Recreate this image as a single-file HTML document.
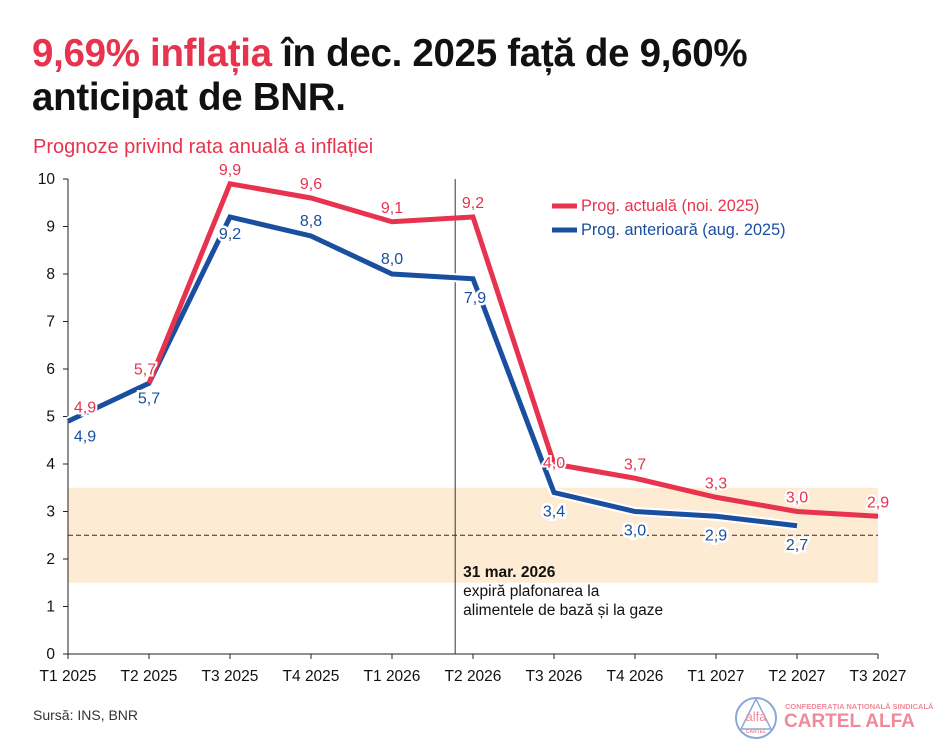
<!DOCTYPE html>
<html><head><meta charset="utf-8">
<style>
body{margin:0;background:#fff;width:936px;height:750px;overflow:hidden;font-family:"Liberation Sans",Arial,sans-serif;}
#title{position:absolute;left:32px;top:32px;font-size:38.5px;font-weight:bold;line-height:44px;color:#111;letter-spacing:-0.3px;}
#title span{color:#e8334f}
#sub{position:absolute;left:33px;top:136px;font-size:20px;color:#e8334f}
#src{position:absolute;left:33px;top:707px;font-size:14px;color:#333}
svg{position:absolute;left:0;top:0}
</style></head><body>
<div id="title"><span>9,69% inflația</span> în dec. 2025 față de 9,60%<br>anticipat de BNR.</div>
<div id="sub">Prognoze privind rata anuală a inflației</div>
<div id="src">Sursă: INS, BNR</div>
<svg id="chart" width="936" height="750"></svg>
<script>
const categories=["T1 2025","T2 2025","T3 2025","T4 2025","T1 2026","T2 2026","T3 2026","T4 2026","T1 2027","T2 2027","T3 2027"];
const currentForecast=[4.9,5.7,9.9,9.6,9.1,9.2,4.0,3.7,3.3,3.0,2.9];
const previousForecast=[4.9,5.7,9.2,8.8,8.0,7.9,3.4,3.0,2.9,2.7];
const yTicks=[0,1,2,3,4,5,6,7,8,9,10];
const targetBand=[1.5,3.5];
const targetLine=2.5;
const ns="http://www.w3.org/2000/svg";
const svg=document.getElementById('chart');
const X=i=>68+i*81;
const Y=v=>654-v*47.5;
function mk(t,a,p){const e=document.createElementNS(ns,t);for(const k in a)e.setAttribute(k,a[k]);(p||svg).appendChild(e);return e;}
let b=mk('rect',{x:68,y:Y(targetBand[1]),width:810,height:Y(targetBand[0])-Y(targetBand[1]),fill:'#fdebd4'});


let d=mk('line',{x1:68,x2:878,y1:Y(targetLine),y2:Y(targetLine),stroke:'#333','stroke-width':1,'stroke-dasharray':'5,3'});


mk('line',{x1:68,x2:68,y1:Y(10),y2:654,stroke:'#222','stroke-width':1});
mk('line',{x1:68,x2:878,y1:654,y2:654,stroke:'#222','stroke-width':1});
yTicks.forEach(v=>{
 mk('line',{x1:63,x2:68,y1:Y(v),y2:Y(v),stroke:'#222'});
 const t=mk('text',{x:55,y:Y(v)+5,'text-anchor':'end','font-size':15.5,fill:'#111'});t.textContent=v;
 
 
});
categories.forEach((c,i)=>{
 mk('line',{x1:X(i),x2:X(i),y1:654,y2:659,stroke:'#222'});
 const t=mk('text',{x:X(i),y:681,'text-anchor':'middle','font-size':15.5,fill:'#111'});t.textContent=c;
 
 
});
const vx=X(4)+0.78*81;
let vl=mk('line',{x1:vx,x2:vx,y1:Y(10),y2:654,stroke:'#333','stroke-width':1});


const ann=mk('text',{x:vx+8,y:577,'font-size':15.5,fill:'#111'});


[['31 mar. 2026','bold',0],['expiră plafonarea la','normal',19],['alimentele de bază și la gaze','normal',38]].forEach(r=>{
 const ts=mk('tspan',{x:vx+8,dy:r[2]?19:0,'font-weight':r[1]},ann);ts.textContent=r[0];});
function pts(arr,off){return arr.map((v,i)=>X(i+off)+','+Y(v)).join(' ');}
mk('polyline',{points:pts(previousForecast,0),fill:'none',stroke:'#fff','stroke-width':9});
let pl=mk('polyline',{points:pts(previousForecast,0),fill:'none',stroke:'#1a4fa0','stroke-width':5});


let cl=mk('polyline',{points:pts(currentForecast.slice(1),1),fill:'none',stroke:'#e8334f','stroke-width':5});


const fmt=v=>v.toFixed(1).replace('.',',');
currentForecast.forEach((v,i)=>{
 const t=mk('text',{x:X(i)+(i==0?17:i==1?-4:0),y:Y(v)-(i==6?-4:9),'text-anchor':'middle','font-size':16,fill:'#e8334f',stroke:'#fff','stroke-width':4,'paint-order':'stroke'});
 t.textContent=fmt(v);
 
 
});
previousForecast.forEach((v,i)=>{
 const t=mk('text',{x:X(i)+(i==0?17:i==5?2:0),y:i==2?Y(v)+22:Y(v)+(i<2?20:(i==3||i==4)?-10:24),'text-anchor':'middle','font-size':16,fill:'#1a4fa0',stroke:'#fff','stroke-width':5,'paint-order':'stroke'});
 t.textContent=fmt(v);
 
 
});
[['#e8334f','Prog. actuală (noi. 2025)',206],['#1a4fa0','Prog. anterioară (aug. 2025)',230]].forEach(l=>{
 const g=mk('g',{});
 
 
 mk('line',{x1:552,x2:577,y1:l[2],y2:l[2],stroke:l[0],'stroke-width':5},g);
 const t=mk('text',{x:581,y:l[2]+5,'font-size':16.3,fill:l[0]},g);t.textContent=l[1];
});
const lg=mk('g',{});


mk('circle',{cx:756,cy:718,r:20,fill:'none',stroke:'#8aa9d6','stroke-width':2},lg);
mk('path',{d:'M756,699 L741,729 L771,729 Z',fill:'none',stroke:'#8aa9d6','stroke-width':1.5},lg);
let t1=mk('text',{x:756,y:721,'text-anchor':'middle','font-size':13,fill:'#f08a9a'},lg);t1.textContent='alfa';
let t2=mk('text',{x:756,y:733,'text-anchor':'middle','font-size':5,fill:'#f08a9a','font-weight':'bold'},lg);t2.textContent='CARTEL';
let t3=mk('text',{x:785,y:709,'font-size':7.5,fill:'#f08a9a','font-weight':'bold'},lg);t3.textContent='CONFEDERAȚIA NAȚIONALĂ SINDICALĂ';
let t4=mk('text',{x:784,y:727,'font-size':19,fill:'#f08a9a','font-weight':'bold'},lg);t4.textContent='CARTEL ALFA';
</script>
</body></html>
